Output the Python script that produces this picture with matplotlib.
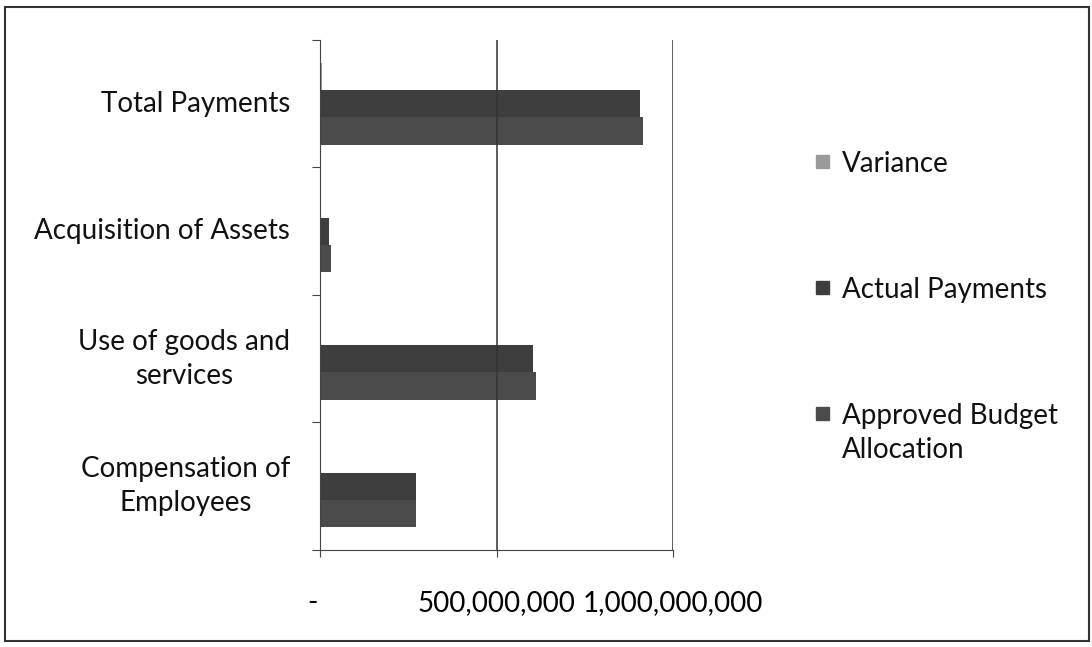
import numpy as np
import matplotlib.pyplot as plt
from matplotlib.patches import Rectangle
from matplotlib.transforms import ScaledTranslation

plt.rcParams['font.family'] = ['Lato', 'DejaVu Sans']

categories = ["Compensation of\nEmployees", "Use of goods and\nservices",
              "Acquisition of Assets", "Total Payments"]
approved = np.array([273e6, 611e6, 31e6, 915e6])
actual = np.array([273e6, 602e6, 26e6, 906e6])
variance = np.array([0.0, 4e6, 0.5e6, 5e6])

series = [("Approved Budget\nAllocation", approved, "#4b4b4b"),
          ("Actual Payments", actual, "#3e3e3e"),
          ("Variance", variance, "#9a9a9a")]

FS = 20
LS = 1.4
W, H = 1092, 647
fig = plt.figure(figsize=(W / 100, H / 100), dpi=100)
ax = fig.add_axes([320 / W, 1 - 550 / H, (673 - 320) / W, 510 / H])

y = np.arange(len(categories))
bh = 0.215
for i, (name, vals, col) in enumerate(series):
    ax.barh(y + (i - 1) * bh, vals, height=bh, color=col, edgecolor="none")

ax.set_xlim(0, 1e9)
ax.set_ylim(-0.5, 3.5)
ax.set_xticks([0, 5e8, 1e9])
ax.set_xticklabels(["-", "500,000,000", "1,000,000,000"], fontsize=FS)
ax.tick_params(axis="x", length=5, pad=24, color="#444444")
lab0 = ax.get_xticklabels()[0]
lab0.set_transform(lab0.get_transform() + ScaledTranslation(-0.08, 0, fig.dpi_scale_trans))
ax.set_yticks(np.arange(-0.5, 4, 1))
ax.set_yticklabels([])
ax.tick_params(axis="y", length=6, color="#444444")
for s in ["top", "right"]:
    ax.spines[s].set_visible(False)
ax.spines["left"].set_color("#444444")
ax.spines["bottom"].set_color("#444444")
for xv in [5e8, 1e9]:
    ax.axvline(xv, color="#333333", lw=1.1)

# category labels, wrapped lines centred like Excel
for yi, lab in zip(y, categories):
    ax.text(-30 / (673 - 320), yi, lab, transform=ax.get_yaxis_transform(),
            ha="right", va="center", multialignment="center", fontsize=FS,
            linespacing=LS, color="#111111")

# legend
leg_y = [163, 289, 415]
for (name, vals, col), ly in zip(series[::-1], leg_y):
    fig.add_artist(Rectangle((816 / W, 1 - (ly + 5) / H), 13 / W, 13 / H,
                             transform=fig.transFigure, color=col))
    fig.text(842 / W, 1 - (ly - 12) / H, name, ha="left", va="top",
             fontsize=FS, linespacing=LS, color="#111111")

fig.add_artist(Rectangle((5 / W, 6 / H), 1084 / W, 634 / H, transform=fig.transFigure,
                         fill=False, lw=1.5, edgecolor="#333333"))

fig.savefig("out.png", dpi=100)
